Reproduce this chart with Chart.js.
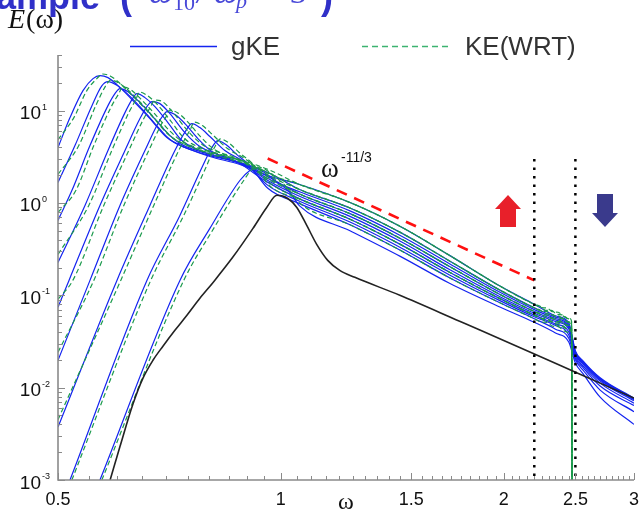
<!DOCTYPE html>
<html>
<head>
<meta charset="utf-8">
<script src="https://cdn.jsdelivr.net/npm/chart.js@4.4.1/dist/chart.umd.min.js"></script>
<style>
  body { margin: 0; background: #fff; }
</style>
</head>
<body>
<canvas id="chart" width="641" height="512"></canvas>
<script>
// axis ticks
const xTicks = [0.5, 1, 1.5, 2, 2.5, 3];
const yTickExps = [-3, -2, -1, 0, 1];

// gKE spectra [omega, E]
const gKE1 = [[0.5,3.98],[0.519,8.40],[0.5404,16.45],[0.5575,22.18],[0.5697,23.9],[0.5841,22.74],[0.6006,19.1],[0.6313,12.83],[0.6655,8.2],[0.7016,5.11],[0.742,3.98],[0.802,3.26],[0.8803,2.74],[0.9604,2.14],[1.06,1.40],[1.24,0.881],[1.45,0.48],[1.69,0.2355],[1.98,0.113],[2.2,0.0731],[2.35,0.058],[2.45,0.048],[2.5,0.0245],[2.56,0.019],[2.7,0.0126],[3.0,0.0076]];
const gKE2 = [[0.5,1.67],[0.5271,4.18],[0.5557,11.32],[0.5733,18.63],[0.5841,20.58],[0.5988,19.1],[0.6158,16.05],[0.6452,11.05],[0.6759,7.24],[0.7082,4.86],[0.749,3.88],[0.802,3.18],[0.8803,2.61],[0.9604,1.98],[1.06,1.585],[1.24,1.012],[1.45,0.557],[1.69,0.2706],[1.98,0.125],[2.2,0.0799],[2.35,0.060],[2.45,0.050],[2.5,0.025],[2.56,0.0195],[2.7,0.0128],[3.0,0.0077]];
const gKE3 = [[0.5,0.647],[0.5222,1.37],[0.5523,4.18],[0.5841,11.32],[0.5969,15.27],[0.6063,17.29],[0.6215,16.05],[0.6392,13.15],[0.6697,8.83],[0.7016,5.78],[0.7306,4.40],[0.7774,3.61],[0.8402,3.03],[0.9081,2.48],[0.9604,1.93],[1.06,1.248],[1.24,0.766],[1.45,0.413],[1.69,0.205],[1.98,0.1015],[2.2,0.0668],[2.35,0.054],[2.45,0.045],[2.5,0.0235],[2.56,0.0185],[2.7,0.0122],[3.0,0.0074]];
const gKE4 = [[0.5,0.227],[0.5438,0.94],[0.5841,3.70],[0.6158,9.51],[0.6293,13.15],[0.6392,15.27],[0.6553,13.82],[0.6759,11.05],[0.7038,7.42],[0.7351,4.74],[0.7774,3.70],[0.8402,3.03],[0.9081,2.42],[0.9604,1.84],[1.06,1.32],[1.24,0.82],[1.45,0.445],[1.69,0.22],[1.98,0.107],[2.2,0.070],[2.35,0.056],[2.45,0.046],[2.5,0.024],[2.56,0.0188],[2.7,0.0124],[3.0,0.0075]];
const gKE5 = [[0.5,0.0742],[0.5174,0.145],[0.5697,0.94],[0.6158,3.70],[0.6452,8.20],[0.6593,11.05],[0.6697,12.51],[0.6865,11.90],[0.7082,9.28],[0.742,5.78],[0.7774,4.08],[0.8273,3.26],[0.8941,2.54],[0.9604,1.75],[1.06,1.18],[1.24,0.715],[1.45,0.384],[1.69,0.19],[1.98,0.096],[2.2,0.064],[2.35,0.052],[2.45,0.043],[2.5,0.023],[2.56,0.018],[2.7,0.0118],[3.0,0.0072]];
const gKE6 = [[0.5,0.0198],[0.5523,0.145],[0.6063,0.94],[0.6553,3.70],[0.6823,7.24],[0.693,8.83],[0.7016,9.75],[0.7193,9.05],[0.742,7.24],[0.7726,4.98],[0.807,3.61],[0.8668,2.88],[0.9604,1.67],[1.06,1.107],[1.24,0.666],[1.45,0.356],[1.69,0.178],[1.98,0.0914],[2.2,0.061],[2.35,0.049],[2.45,0.040],[2.5,0.022],[2.56,0.0172],[2.7,0.0112],[3.0,0.0068]];
const gKE7 = [[0.5,0.00374],[0.6006,0.145],[0.6655,0.94],[0.7193,3.70],[0.7443,6.08],[0.7583,7.24],[0.7774,6.55],[0.802,5.24],[0.8402,3.70],[0.8941,2.74],[0.9604,1.55],[1.06,1.045],[1.24,0.622],[1.45,0.33],[1.69,0.166],[1.98,0.087],[2.2,0.0585],[2.35,0.047],[2.45,0.037],[2.5,0.021],[2.56,0.0165],[2.7,0.0104],[3.0,0.0064]];
const gKE8 = [[0.519,0.001],[0.6593,0.145],[0.7306,0.733],[0.7847,2.54],[0.807,3.98],[0.8222,4.74],[0.8428,4.29],[0.8722,3.34],[0.9081,2.54],[0.9604,1.44],[1.06,0.983],[1.24,0.58],[1.45,0.307],[1.69,0.155],[1.98,0.0824],[2.2,0.0558],[2.35,0.043],[2.45,0.034],[2.5,0.020],[2.56,0.0155],[2.7,0.0094],[3.0,0.0055]];
const gKE9 = [[0.5697,0.001],[0.7306,0.145],[0.802,0.530],[0.8803,1.75],[0.9081,2.25],[0.9224,2.36],[0.9454,2.19],[0.9815,1.75],[1.0284,1.30],[1.06,0.93],[1.24,0.50],[1.45,0.264],[1.69,0.135],[1.98,0.0742],[2.2,0.051],[2.35,0.039],[2.45,0.031],[2.5,0.0185],[2.56,0.0142],[2.7,0.0079],[3.0,0.0040]];

// KE(WRT) spectra [omega, E]
const ke1 = [[0.5,4.85],[0.5253,8.40],[0.5469,16.45],[0.5642,22.18],[0.5743,24.9],[0.5888,23.6],[0.6054,19.9],[0.6364,13.4],[0.6708,8.6],[0.7072,5.37],[0.748,4.18],[0.808,3.42],[0.887,2.88],[0.968,2.25],[1.06,1.585],[1.24,1.012],[1.45,0.557],[1.69,0.2706],[1.98,0.125],[2.2,0.0799],[2.25,0.0735],[2.29,0.0727],[2.33,0.0663],[2.37,0.0655],[2.41,0.0591],[2.45,0.0567],[2.47,0.0527],[2.476,0.0001]];
const ke2 = [[0.5,2.04],[0.5334,4.18],[0.5624,11.32],[0.5802,18.63],[0.5888,21.4],[0.6036,20.0],[0.6207,16.9],[0.6504,11.6],[0.6813,7.6],[0.7139,5.1],[0.755,4.07],[0.808,3.34],[0.887,2.74],[0.968,2.08],[1.06,1.40],[1.24,0.881],[1.45,0.48],[1.69,0.2355],[1.98,0.113],[2.2,0.0731],[2.24,0.0694],[2.28,0.0629],[2.32,0.0629],[2.36,0.057],[2.4,0.0563],[2.44,0.0512],[2.47,0.0475],[2.476,0.0001]];
const ke3 = [[0.5,0.79],[0.5287,1.37],[0.5589,4.18],[0.5911,11.32],[0.6041,15.27],[0.6112,18.0],[0.6265,16.9],[0.6443,13.8],[0.6751,9.27],[0.7072,6.07],[0.7364,4.62],[0.7836,3.79],[0.8469,3.18],[0.9154,2.6],[0.968,2.03],[1.06,1.585],[1.24,1.012],[1.45,0.557],[1.69,0.2706],[1.98,0.125],[2.2,0.0799],[2.24,0.0759],[2.28,0.0687],[2.32,0.0687],[2.36,0.0623],[2.4,0.0615],[2.44,0.0559],[2.47,0.0519],[2.476,0.0001]];
const ke4 = [[0.5,0.277],[0.5503,0.94],[0.5911,3.70],[0.6232,9.51],[0.6369,13.15],[0.6443,15.9],[0.6605,14.5],[0.6813,11.6],[0.7094,7.8],[0.741,4.98],[0.7836,3.89],[0.8469,3.18],[0.9154,2.54],[0.968,1.93],[1.06,1.40],[1.24,0.881],[1.45,0.48],[1.69,0.2355],[1.98,0.113],[2.2,0.0731],[2.25,0.0673],[2.29,0.0665],[2.33,0.0607],[2.37,0.0599],[2.41,0.0541],[2.45,0.0519],[2.47,0.0482],[2.476,0.0001]];
const ke5 = [[0.5,0.0905],[0.5236,0.145],[0.5765,0.94],[0.6232,3.70],[0.653,8.20],[0.6672,11.05],[0.675,13.0],[0.692,12.5],[0.7139,9.74],[0.748,6.07],[0.7836,4.28],[0.8339,3.42],[0.9012,2.67],[0.968,1.84],[1.06,1.248],[1.24,0.766],[1.45,0.413],[1.69,0.205],[1.98,0.1015],[2.2,0.0668],[2.25,0.0615],[2.29,0.0608],[2.33,0.0554],[2.37,0.0548],[2.41,0.0494],[2.45,0.0474],[2.47,0.0441],[2.476,0.0001]];
const ke6 = [[0.5,0.0242],[0.5589,0.145],[0.6136,0.94],[0.6632,3.70],[0.6905,7.24],[0.7013,8.83],[0.7072,10.1],[0.725,9.5],[0.748,7.6],[0.7788,5.23],[0.8135,3.79],[0.8737,3.02],[0.968,1.75],[1.06,1.248],[1.24,0.766],[1.45,0.413],[1.69,0.205],[1.98,0.1015],[2.2,0.0668],[2.24,0.0635],[2.28,0.0574],[2.32,0.0574],[2.36,0.0521],[2.4,0.0514],[2.44,0.0468],[2.47,0.0434],[2.476,0.0001]];
const ke7 = [[0.5,0.0045],[0.6078,0.145],[0.6735,0.94],[0.728,3.70],[0.7532,6.08],[0.7644,7.5],[0.7836,6.88],[0.8084,5.5],[0.8469,3.89],[0.9012,2.88],[0.968,1.63],[1.06,1.107],[1.24,0.666],[1.45,0.356],[1.69,0.178],[1.98,0.0914],[2.2,0.061],[2.25,0.0561],[2.29,0.0555],[2.33,0.0506],[2.37,0.05],[2.41,0.0451],[2.45,0.0433],[2.47,0.0403],[2.476,0.0001]];
const ke8 = [[0.522,0.001],[0.6672,0.145],[0.7394,0.733],[0.7941,2.54],[0.8135,3.98],[0.8288,4.93],[0.8495,4.5],[0.8792,3.5],[0.9154,2.67],[0.968,1.51],[1.06,1.107],[1.24,0.666],[1.45,0.356],[1.69,0.178],[1.98,0.0914],[2.2,0.061],[2.24,0.058],[2.28,0.0525],[2.32,0.0525],[2.36,0.0476],[2.4,0.047],[2.44,0.0427],[2.47,0.0397],[2.476,0.0001]];
const ke9 = [[0.573,0.001],[0.7394,0.145],[0.8116,0.530],[0.8909,1.75],[0.9154,2.34],[0.9298,2.45],[0.953,2.3],[0.9894,1.84],[1.0284,1.37],[1.06,1.0],[1.24,0.58],[1.45,0.307],[1.69,0.155],[1.98,0.0824],[2.2,0.0558],[2.25,0.0513],[2.29,0.0508],[2.33,0.0463],[2.37,0.0458],[2.41,0.0413],[2.45,0.0396],[2.47,0.0368],[2.476,0.0001]];

// initial spectrum (black)
const initialSpec = [[0.588,0.001],[0.6063,0.0023],[0.6313,0.00664],[0.6513,0.01267],[0.6718,0.0198],[0.693,0.0281],[0.7193,0.0418],[0.7467,0.0608],[0.7774,0.0928],[0.81,0.138],[0.861,0.2576],[0.917,0.530],[0.957,0.894],[0.988,1.21],[1.022,1.118],[1.051,0.894],[1.084,0.571],[1.118,0.356],[1.157,0.239],[1.201,0.186],[1.259,0.1565],[1.448,0.100],[1.744,0.0524],[1.874,0.0408],[2.189,0.0236],[2.51,0.0145],[3.0,0.0077]];

// omega^-11/3 reference and the two cut-off markers
const slopeRef = [[0.96,3.03],[2.2,0.145]];
const cutA = [[2.2,3.0],[2.2,0.001]];
const cutB = [[2.5,3.0],[2.5,0.001]];

const BLUE = '#1424f0';
const GREEN = '#1b9a4c';

const toXY = arr => arr.map(p => ({ x: p[0], y: p[1] }));

const curve = (data, color, width, dash) => ({
    data: toXY(data),
    borderColor: color,
    borderWidth: width,
    borderDash: dash || [],
    showLine: true,
    pointRadius: 0,
    fill: false,
    cubicInterpolationMode: 'monotone',
});

const straight = (data, color, width, dash) => ({
    data: toXY(data),
    borderColor: color,
    borderWidth: width,
    borderDash: dash,
    borderCapStyle: 'butt',
    showLine: true,
    pointRadius: 0,
    fill: false,
});

const blues = [gKE1, gKE2, gKE3, gKE4, gKE5, gKE6, gKE7, gKE8, gKE9];
const greens = [ke1, ke2, ke3, ke4, ke5, ke6, ke7, ke8, ke9];

// first dataset is drawn on top
const datasets = [
    straight(cutA, '#000', 2.5, [2.5, 6]),
    straight(cutB, '#000', 2.5, [2.5, 6]),
    straight(slopeRef, '#ff1010', 2.6, [11, 8]),
    curve(initialSpec, '#222', 1.6),
    ...greens.map(d => curve(d, GREEN, 1.2, [5, 3])),
    ...blues.map(d => curve(d, BLUE, 1.2)),
];

const SANS = '"Liberation Sans", Arial, sans-serif';
const SERIF = '"Liberation Serif", "Times New Roman", serif';

const decor = {
    id: 'decor',
    afterDatasetsDraw(chart) {
        const { ctx, chartArea: a, scales: { x, y } } = chart;
        const px = v => x.getPixelForValue(v);
        const py = v => y.getPixelForValue(v);
        ctx.save();

        // axes
        ctx.strokeStyle = '#8a8a8a';
        ctx.lineWidth = 1.6;
        ctx.beginPath();
        ctx.moveTo(a.left, a.top);
        ctx.lineTo(a.left, a.bottom);
        ctx.lineTo(a.right, a.bottom);
        ctx.stroke();

        // inward ticks
        ctx.lineWidth = 1;
        for (let i = 0; i <= 50; i++) {
            const v = 0.5 + i * 0.05;
            const major = xTicks.some(t => Math.abs(t - v) < 1e-6);
            const xx = Math.round(px(v)) + 0.5;
            ctx.beginPath();
            ctx.moveTo(xx, a.bottom);
            ctx.lineTo(xx, a.bottom - (major ? 7 : 4));
            ctx.stroke();
        }
        yTickExps.forEach(e => {
            for (let m = 1; m <= 9; m++) {
                const v = m * Math.pow(10, e);
                if (v > 40.01) break;
                const yy = Math.round(py(v)) + 0.5;
                ctx.beginPath();
                ctx.moveTo(a.left, yy);
                ctx.lineTo(a.left + (m === 1 ? 7 : 4), yy);
                ctx.stroke();
            }
        });

        // tick labels
        ctx.fillStyle = '#111';
        ctx.textBaseline = 'alphabetic';
        ctx.font = '18px ' + SANS;
        ctx.textAlign = 'center';
        xTicks.forEach(t => ctx.fillText(String(t), px(t), 505));
        yTickExps.forEach(e => {
            const yy = py(Math.pow(10, e));
            ctx.font = '19px ' + SANS;
            ctx.textAlign = 'right';
            ctx.fillText('10', 41, yy + 8.5);
            ctx.font = '9px ' + SANS;
            ctx.textAlign = 'left';
            ctx.fillText(String(e), 42, yy - 1);
        });

        // axis titles
        ctx.textAlign = 'left';
        ctx.font = 'italic 28px ' + SERIF;
        ctx.fillText('E', 8, 28);
        const wE = ctx.measureText('E').width;
        ctx.font = '28px ' + SERIF;
        ctx.fillText('(ω)', 9 + wE, 28);
        ctx.font = '24px ' + SERIF;
        ctx.textAlign = 'center';
        ctx.fillText('ω', 346, 509);

        // slope label
        ctx.textAlign = 'left';
        ctx.font = '27px ' + SERIF;
        ctx.fillText('ω', 321, 177);
        ctx.font = '14px ' + SANS;
        ctx.fillText('-11/3', 341, 162);

        // legend
        ctx.strokeStyle = BLUE;
        ctx.lineWidth = 1.3;
        ctx.beginPath();
        ctx.moveTo(130, 46.5);
        ctx.lineTo(217, 46.5);
        ctx.stroke();
        ctx.strokeStyle = '#3cb370';
        ctx.setLineDash([6, 4]);
        ctx.beginPath();
        ctx.moveTo(362, 46.5);
        ctx.lineTo(452, 46.5);
        ctx.stroke();
        ctx.setLineDash([]);
        ctx.fillStyle = '#333';
        ctx.font = '26px ' + SANS;
        ctx.fillText('gKE', 231, 55);
        ctx.fillText('KE(WRT)', 465, 55);

        // arrows
        ctx.fillStyle = '#e8202a';
        ctx.beginPath();
        ctx.moveTo(508, 195);
        ctx.lineTo(521, 209);
        ctx.lineTo(516, 209);
        ctx.lineTo(516, 227);
        ctx.lineTo(500, 227);
        ctx.lineTo(500, 209);
        ctx.lineTo(495, 209);
        ctx.closePath();
        ctx.fill();
        ctx.fillStyle = '#3a3a8c';
        ctx.beginPath();
        ctx.moveTo(597, 194);
        ctx.lineTo(613, 194);
        ctx.lineTo(613, 213);
        ctx.lineTo(618, 213);
        ctx.lineTo(605, 227);
        ctx.lineTo(592, 213);
        ctx.lineTo(597, 213);
        ctx.closePath();
        ctx.fill();

        // title, cut off at the top edge
        ctx.fillStyle = '#3030c8';
        ctx.font = 'bold 36px ' + SANS;
        ctx.textAlign = 'right';
        ctx.fillText('Example', 100, 9);
        ctx.textAlign = 'left';
        ctx.fillText('(', 120, 9);
        ctx.fillText(')', 321, 9);
        ctx.fillStyle = '#4848d8';
        ctx.font = 'italic 34px ' + SERIF;
        ctx.fillText('ω', 149, 3);
        ctx.fillText('/', 197, 3);
        ctx.fillText('ω', 214, 3);
        ctx.font = '22px ' + SERIF;
        ctx.fillText('10', 173, 10);
        ctx.font = 'italic 22px ' + SERIF;
        ctx.fillText('p', 236, 8);
        ctx.font = '34px ' + SERIF;
        ctx.fillText('= 3', 262, 3);

        ctx.restore();
    },
};

new Chart(document.getElementById('chart'), {
    type: 'scatter',
    data: { datasets: datasets },
    options: {
        responsive: false,
        animation: false,
        devicePixelRatio: 1,
        layout: { padding: { left: 58, right: 7, top: 55, bottom: 32 } },
        plugins: {
            legend: { display: false },
            tooltip: { enabled: false },
        },
        scales: {
            x: { type: 'logarithmic', min: 0.5, max: 3, display: false },
            y: { type: 'logarithmic', min: 0.001, max: 40, display: false },
        },
    },
    plugins: [decor],
});
</script>
</body>
</html>
